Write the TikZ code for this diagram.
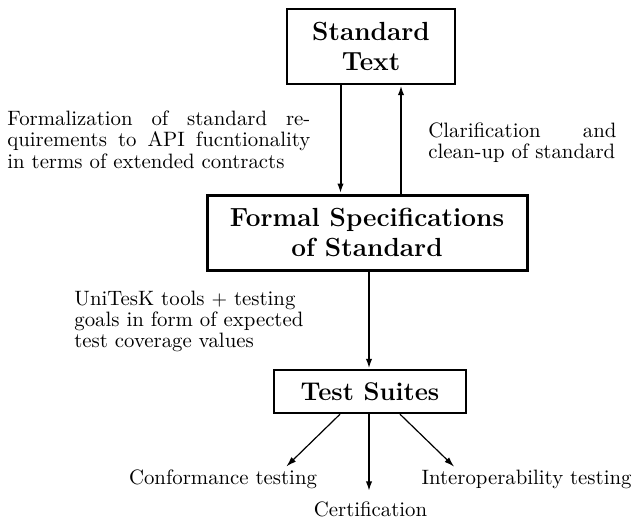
\documentclass[tikz,border=0pt]{standalone}
\usetikzlibrary{arrows.meta}
\begin{document}
\begin{tikzpicture}[x=0.5pt,y=-0.5pt,
  box/.style={draw, line width=1.2pt, align=center, inner sep=0pt,
    font=\fontsize{13.1}{15}\selectfont\bfseries},
  lab/.style={inner sep=0pt, font=\fontsize{10.4}{10.6}\selectfont},
  arr/.style={line width=1pt, -{Latex[length=5pt,width=3.2pt]}},
  thinarr/.style={line width=0.6pt, -{Latex[length=5pt,width=3.2pt]}}]
\useasboundingbox (0,0) rectangle (636,519);
% columns
\coordinate (xl) at (340.5,0);
\coordinate (xr) at (401,0);
\coordinate (xm) at (369,0);
% boxes
\node[box, minimum width=84pt, minimum height=37.5pt] (st) at (371,46.5) {Standard\\Text};
\node[box, line width=1.5pt, minimum width=160pt, minimum height=37.5pt] (fs) at (367,232.5) {Formal Specifications\\of Standard};
\node[box, minimum width=96pt, minimum height=21.5pt, font=\fontsize{12.8}{15}\selectfont\bfseries] (ts) at (370,391.5) {Test Suites};
% side labels
\node[lab, anchor=north west, text width=151.5pt, align=justify] (l1) at (7,110.6)
  {Formalization of standard re-\linebreak quirements to API fucntionality\linebreak in terms of extended contracts};
\node[lab, anchor=north west, text width=94pt, align=justify] (l2) at (428,122.6)
  {Clarification and\linebreak clean-up of standard};
\node[lab, anchor=north west, text width=115pt, align=left] (l3) at (74,290.6)
  {UniTesK tools $+$ testing\\goals in form of expected\\test coverage values};
% bottom labels
\node[lab, anchor=base] (ct) at (223,484.5) {Conformance testing};
\node[lab, anchor=base] (it) at (526.5,484.5) {Interoperability testing};
\node[lab, anchor=base] (ce) at (370.5,516) {Certification};
% connectors
\draw[arr] (st.south -| xl) -- (fs.north -| xl);
\draw[arr] (fs.north -| xr) -- (st.south -| xr);
\draw[arr] (fs.south -| xm) -- (ts.north -| xm);
\draw[thinarr] ([xshift=-15pt]ts.south) -- ([xshift=-15.5pt,yshift=1.5pt]ct.north east);
\draw[thinarr] ([xshift=15pt]ts.south) -- ([xshift=16.5pt,yshift=1.5pt]it.north west);
\draw[arr, shorten >=4.8pt] (ts.south -| xm) -- (ce.north -| xm);
\end{tikzpicture}
\end{document}
